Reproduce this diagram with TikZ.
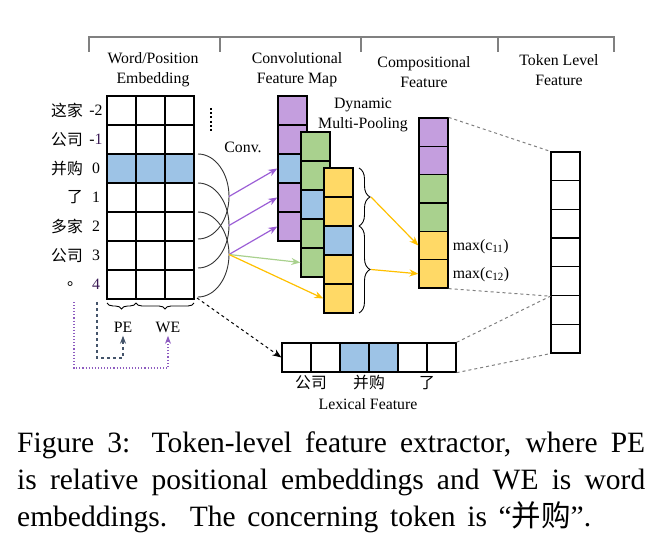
\documentclass[tikz,border=0pt]{standalone}
\usepackage{fontspec}
\setmainfont{Liberation Serif}
\newfontfamily\cjk{Noto Sans CJK SC}
\usetikzlibrary{positioning,arrows.meta,decorations.pathreplacing}

\definecolor{cellpurple}{HTML}{C49EDE}
\definecolor{cellblue}{HTML}{9DC3E6}
\definecolor{cellgreen}{HTML}{A9D18E}
\definecolor{cellyellow}{HTML}{FFD966}
\definecolor{convpurple}{HTML}{9C5FD6}
\definecolor{poolyellow}{HTML}{FFC000}
\definecolor{penavy}{HTML}{44546A}
\definecolor{wepurple}{HTML}{8E5CC0}
\definecolor{posviolet}{HTML}{3A1A55}

\tikzset{
  cell/.style={draw, line width=1.3pt, minimum width=29pt, minimum height=29pt, inner sep=0pt},
  gridline/.style={line width=1.3pt, line cap=rect},
  label/.style={inner sep=0pt},
  header/.style={draw=gray, line width=1.2pt},
  arcline/.style={draw=black!80, line width=0.9pt},
  convarrow/.style={-{Stealth[length=9pt,width=7pt]}, line width=1.2pt},
  poolbrace/.style={decorate, decoration={brace, amplitude=11pt}, line width=0.9pt},
  embbrace/.style={decorate, decoration={brace, amplitude=6pt}, line width=0.9pt},
  mapline/.style={dashed, draw=gray, line width=1pt},
  captionline/.style={anchor=base west, inner sep=0pt, font=\fontsize{29.5}{36}\selectfont}
}

\begin{document}
\begin{tikzpicture}[x=1pt, y=-1pt, font=\fontsize{15.8}{20}\selectfont]
    \path[use as bounding box] (0,0) rectangle (664,553);

    % header bar
    \draw [header] (89,52) -- (89,37) -- (614,37) -- (614,52);
    \draw [header] (220,37) -- (220,52);
    \draw [header] (361,37) -- (361,52);
    \draw [header] (498,37) -- (498,52);

    \node (wordpos-label) at (153,70) [align=center] {Word/Position\\Embedding};
    \node (convmap-label) at (297,70) [align=center] {Convolutional\\Feature Map};
    \node (comp-label) at (424,72) [align=center] {Compositional\\Feature};
    \node (token-label) at (559,70) [align=center] {Token Level\\Feature};

    % word/position embedding
    \fill [fill=cellblue] (107,154) rectangle (194,183);

    \draw [gridline] (107,96) -- (194,96);
    \draw [gridline] (107,125) -- (194,125);
    \draw [gridline] (107,154) -- (194,154);
    \draw [gridline] (107,183) -- (194,183);
    \draw [gridline] (107,212) -- (194,212);
    \draw [gridline] (107,241) -- (194,241);
    \draw [gridline] (107,270) -- (194,270);
    \draw [gridline] (107,299) -- (194,299);

    \draw [gridline] (107,96) -- (107,299);
    \draw [gridline] (136,96) -- (136,299);
    \draw [gridline] (165,96) -- (165,299);
    \draw [gridline] (194,96) -- (194,299);

    \node (A-word) at (83,110.5) [label, anchor=east] {\cjk 这家};
    \node (B-word) at (83,139.5) [label, anchor=east] {\cjk 公司};
    \node (C-word) at (83,168.5) [label, anchor=east] {\cjk 并购};
    \node (D-word) at (83,197.5) [label, anchor=east] {\cjk 了};
    \node (E-word) at (83,226.5) [label, anchor=east] {\cjk 多家};
    \node (F-word) at (83,255.5) [label, anchor=east] {\cjk 公司};
    \node (G-word) at (83,284.5) [label, anchor=east] {\cjk 。};

    \node (A-pos) at (96,110.5) [label] {-2};
    \node (B-pos) at (96,139.5) [label] {-\textcolor{posviolet}{1}};
    \node (C-pos) at (96,168.5) [label] {0};
    \node (D-pos) at (96,197.5) [label] {1};
    \node (E-pos) at (96,226.5) [label] {2};
    \node (F-pos) at (96,255.5) [label] {3};
    \node (G-pos) at (96,284.5) [label, text=posviolet] {4};

    \draw [line width=2.2pt, dash pattern=on 2pt off 2.2pt] (211,108) -- (211,133);

    \draw [embbrace] (136,303) -- (107,303);
    \draw [embbrace] (194,303) -- (136,303);
    \node (PE) at (123,327) [] {PE};
    \node (WE) at (168,327) [] {WE};

    \coordinate (pe-src) at (97,302);
    \coordinate (we-src) at (74,302);
    \draw [penavy, dashed, line width=1.1pt, -{Stealth[length=8pt,width=6pt]}] (pe-src) -- (97,358) -| (PE.south);
    \draw [wepurple, dotted, line width=1.1pt, -{Stealth[length=8pt,width=6pt]}] (we-src) -- (74,368) -| (WE.south);

    % convolution windows
    \draw [arcline] (198,154) arc [start angle=90, end angle=-90, x radius=31pt, y radius=42.5pt];
    \draw [arcline] (198,183) arc [start angle=90, end angle=-90, x radius=31pt, y radius=42.5pt];
    \draw [arcline] (198,212) arc [start angle=90, end angle=-90, x radius=31pt, y radius=42.5pt];
    \coordinate (arc1) at (229,196.5);
    \coordinate (arc2) at (229,225.5);
    \coordinate (arc3) at (229,254.5);

    \node (conv-label) at (243,147) [] {Conv.};

    % convolutional feature map
    \node (A-conv) at (292.5,110.5) [cell, fill=cellpurple] {};
    \node (B-conv) at (292.5,139.5) [cell, fill=cellpurple] {};
    \node (C-conv) at (292.5,168.5) [cell, fill=cellblue] {};
    \node (D-conv) at (292.5,197.5) [cell, fill=cellpurple] {};
    \node (E-conv) at (292.5,226.5) [cell, fill=cellpurple] {};

    \node (A-green) at (315.5,146.5) [cell, fill=cellgreen] {};
    \node (B-green) at (315.5,175.5) [cell, fill=cellgreen] {};
    \node (C-green) at (315.5,204.5) [cell, fill=cellblue] {};
    \node (D-green) at (315.5,233.5) [cell, fill=cellgreen] {};
    \node (E-green) at (315.5,262.5) [cell, fill=cellgreen] {};

    \node (A-yellow) at (338.5,182.5) [cell, fill=cellyellow] {};
    \node (B-yellow) at (338.5,211.5) [cell, fill=cellyellow] {};
    \node (C-yellow) at (338.5,240.5) [cell, fill=cellblue] {};
    \node (D-yellow) at (338.5,269.5) [cell, fill=cellyellow] {};
    \node (E-yellow) at (338.5,298.5) [cell, fill=cellyellow] {};

    \draw [convarrow, convpurple] (arc1) -- (C-conv.west);
    \draw [convarrow, convpurple] (arc2) -- (D-conv.west);
    \draw [convarrow, convpurple] (arc3) -- (E-conv.west);
    \draw [convarrow, cellgreen] (arc3) -- (E-green.west);
    \draw [convarrow, poolyellow] (arc3) -- (E-yellow.west);

    \node (pool-label) at (363,114.5) [align=center] {Dynamic\\Multi-Pooling};

    \draw [poolbrace] (359,168) -- (359,226);
    \draw [poolbrace] (359,226) -- (359,313);
    \coordinate (pool1) at (371,197);
    \coordinate (pool2) at (371,269.5);

    % compositional feature
    \node (A-comp) at (433.5,132.2) [cell, minimum height=28.33pt, fill=cellpurple] {};
    \node (B-comp) at (433.5,160.5) [cell, minimum height=28.33pt, fill=cellpurple] {};
    \node (C-comp) at (433.5,188.8) [cell, minimum height=28.33pt, fill=cellgreen] {};
    \node (D-comp) at (433.5,217.2) [cell, minimum height=28.33pt, fill=cellgreen] {};
    \node (E-comp) at (433.5,245.5) [cell, minimum height=28.33pt, fill=cellyellow] {};
    \node (F-comp) at (433.5,273.8) [cell, minimum height=28.33pt, fill=cellyellow] {};

    \draw [convarrow, poolyellow] (pool1) -- (E-comp.west);
    \draw [convarrow, poolyellow] (pool2) -- (F-comp.west);

    \node (max11) [right=4pt of E-comp, label, yshift=-1pt] {max(c\textsubscript{11})};
    \node (max12) [right=4pt of F-comp, label, yshift=-1pt] {max(c\textsubscript{12})};

    % token level feature
    \node (A-token) at (565.5,166.4) [cell, minimum height=28.7pt] {};
    \node (B-token) at (565.5,195.1) [cell, minimum height=28.7pt] {};
    \node (C-token) at (565.5,223.8) [cell, minimum height=28.7pt] {};
    \node (D-token) at (565.5,252.5) [cell, minimum height=28.7pt] {};
    \node (E-token) at (565.5,281.2) [cell, minimum height=28.7pt] {};
    \node (F-token) at (565.5,309.9) [cell, minimum height=28.7pt] {};
    \node (G-token) at (565.5,338.6) [cell, minimum height=28.7pt] {};

    % lexical feature
    \node (A-lex) at (296.5,357.5) [cell] {};
    \node (B-lex) at (325.5,357.5) [cell] {};
    \node (C-lex) at (354.5,357.5) [cell, fill=cellblue] {};
    \node (D-lex) at (383.5,357.5) [cell, fill=cellblue] {};
    \node (E-lex) at (412.5,357.5) [cell] {};
    \node (F-lex) at (441.5,357.5) [cell] {};

    \node (gongsi-lex) at (311,383) [] {\cjk 公司};
    \node (binggou-lex) at (369,383) [] {\cjk 并购};
    \node (le-lex) at (427,383) [] {\cjk 了};
    \node (lex-label) at (368,404) [] {Lexical Feature};

    \coordinate (grid-corner) at (197,298);
    \draw [dashed, line width=1pt, -{Stealth[length=9pt,width=7pt]}] (grid-corner) -- (A-lex.west);

    \draw [mapline] (A-comp.north east) -- (A-token.north west);
    \draw [mapline] (F-comp.south east) -- (E-token.south west);
    \draw [mapline] (F-lex.north east) -- (E-token.south west);
    \draw [mapline] (F-lex.south east) -- (G-token.south west);

    % caption
    \node (caption-a) at (17,452) [captionline] {\makebox[628pt][s]{Figure 3: Token-level feature extractor, where PE}};
    \node (caption-b) at (17,489) [captionline] {\makebox[628pt][s]{is relative positional embeddings and WE is word}};
    \node (caption-c) at (17,526) [captionline] {\makebox[574pt][s]{embeddings. The concerning token is ``{\cjk 并购}''.}};
\end{tikzpicture}
\end{document}
